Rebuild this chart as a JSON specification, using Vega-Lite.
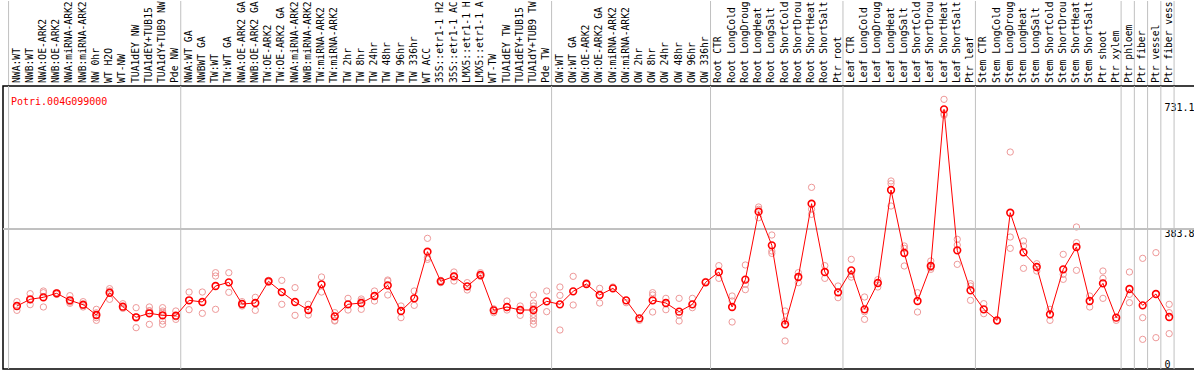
{
  "$schema": "https://vega.github.io/schema/vega-lite/v6.json",
  "autosize": {"type": "pad"},
  "padding": {"left": 1, "top": 0, "right": 1, "bottom": 2},
  "bounds": "flush",
  "spacing": 0,
  "background": "white",
  "config": {"font": "DejaVu Sans Mono", "view": {"stroke": null}},
  "resolve": {"scale": {"x": "shared", "y": "independent"}},
  "datasets": {
    "means": [
      {"id":"01","s":"NWA:WT","v":172.7,"g":1},
      {"id":"02","s":"NWB:WT","v":191,"g":0},
      {"id":"03","s":"NWA:OE-ARK2","v":196.5,"g":0},
      {"id":"04","s":"NWB:OE-ARK2","v":207.5,"g":0},
      {"id":"05","s":"NWA:miRNA-ARK2","v":188.3,"g":0},
      {"id":"06","s":"NWB:miRNA-ARK2","v":176.3,"g":0},
      {"id":"07","s":"NW 0hr","v":148,"g":0},
      {"id":"08","s":"WT H2O","v":209,"g":0},
      {"id":"09","s":"WT-NW","v":170.8,"g":0},
      {"id":"10","s":"TUA1dEY NW","v":141.7,"g":0},
      {"id":"11","s":"TUA1dEY+TUB15","v":152.7,"g":0},
      {"id":"12","s":"TUA1dY+TUB9 NW","v":147.2,"g":0},
      {"id":"13","s":"Pde NW","v":146.1,"g":0},
      {"id":"14","s":"NWA:WT GA","v":188.3,"g":1},
      {"id":"15","s":"NWBWT GA","v":183.7,"g":0},
      {"id":"16","s":"TW:WT","v":227.5,"g":0},
      {"id":"17","s":"TW:WT GA","v":237.6,"g":0},
      {"id":"18","s":"NWA:OE-ARK2 GA","v":178.2,"g":0},
      {"id":"19","s":"NWB:OE-ARK2 GA","v":180.9,"g":0},
      {"id":"20","s":"TW:OE-ARK2","v":240.4,"g":0},
      {"id":"21","s":"TW:OE-ARK2 GA","v":211,"g":0},
      {"id":"22","s":"NWA:miRNA-ARK2","v":183.7,"g":0},
      {"id":"23","s":"NWB:miRNA-ARK2","v":161.7,"g":0},
      {"id":"24","s":"TW:miRNA-ARK2","v":232,"g":0},
      {"id":"25","s":"TW:miRNA-ARK2","v":144.4,"g":0},
      {"id":"26","s":"TW 2hr","v":177.3,"g":0},
      {"id":"27","s":"TW 8hr","v":180.9,"g":0},
      {"id":"28","s":"TW 24hr","v":200.1,"g":0},
      {"id":"29","s":"TW 48hr","v":229.3,"g":0},
      {"id":"30","s":"TW 96hr","v":159,"g":0},
      {"id":"31","s":"TW 336hr","v":193.7,"g":0},
      {"id":"32","s":"WT ACC","v":321.6,"g":0},
      {"id":"33","s":"35S::etr1-1 H2","v":240.3,"g":0},
      {"id":"34","s":"35S::etr1-1 AC","v":254,"g":0},
      {"id":"35","s":"LMX5::etr1-1 H","v":226.6,"g":0},
      {"id":"36","s":"LMX5::etr1-1 A","v":257.7,"g":0},
      {"id":"37","s":"WT-TW","v":160.8,"g":0},
      {"id":"38","s":"TUA1dEY TW","v":170,"g":0},
      {"id":"39","s":"TUA1dEY+TUB15","v":161.7,"g":0},
      {"id":"40","s":"TUA1dY+TUB9 TW","v":161.7,"g":0},
      {"id":"41","s":"Pde TW","v":185.5,"g":0},
      {"id":"42","s":"OW:WT","v":177.3,"g":1},
      {"id":"43","s":"OW:WT GA","v":212.9,"g":0},
      {"id":"44","s":"OW:OE-ARK2","v":233,"g":0},
      {"id":"45","s":"OW:OE-ARK2 GA","v":202.9,"g":0},
      {"id":"46","s":"OW:miRNA-ARK2","v":221.1,"g":0},
      {"id":"47","s":"OW:miRNA-ARK2","v":188.2,"g":0},
      {"id":"48","s":"OW 2hr","v":138.9,"g":0},
      {"id":"49","s":"OW 8hr","v":188.2,"g":0},
      {"id":"50","s":"OW 24hr","v":180.9,"g":0},
      {"id":"51","s":"OW 48hr","v":157.2,"g":0},
      {"id":"52","s":"OW 96hr","v":177.3,"g":0},
      {"id":"53","s":"OW 336hr","v":237.6,"g":0},
      {"id":"54","s":"Root CTR","v":265.9,"g":1},
      {"id":"55","s":"Root LongCold","v":170,"g":0},
      {"id":"56","s":"Root LongDroug","v":244.9,"g":0},
      {"id":"57","s":"Root LongHeat","v":431.3,"g":0},
      {"id":"58","s":"Root LongSalt","v":339,"g":0},
      {"id":"59","s":"Root ShortCold","v":122.4,"g":0},
      {"id":"60","s":"Root ShortDrou","v":252.2,"g":0},
      {"id":"61","s":"Root ShortHeat","v":453.2,"g":0},
      {"id":"62","s":"Root ShortSalt","v":265.9,"g":0},
      {"id":"63","s":"Ptr root","v":210.2,"g":0},
      {"id":"64","s":"Leaf CTR","v":270.5,"g":1},
      {"id":"65","s":"Leaf LongCold","v":163.6,"g":0},
      {"id":"66","s":"Leaf LongDroug","v":235.7,"g":0},
      {"id":"67","s":"Leaf LongHeat","v":490.7,"g":0},
      {"id":"68","s":"Leaf LongSalt","v":318,"g":0},
      {"id":"69","s":"Leaf ShortCold","v":186.4,"g":0},
      {"id":"70","s":"Leaf ShortDrou","v":282.4,"g":0},
      {"id":"71","s":"Leaf ShortHeat","v":711.8,"g":0},
      {"id":"72","s":"Leaf ShortSalt","v":325.3,"g":0},
      {"id":"73","s":"Ptr leaf","v":215.6,"g":0},
      {"id":"74","s":"Stem CTR","v":163.6,"g":1},
      {"id":"75","s":"Stem LongCold","v":133.4,"g":0},
      {"id":"76","s":"Stem LongDroug","v":428.5,"g":0},
      {"id":"77","s":"Stem LongHeat","v":319.8,"g":0},
      {"id":"78","s":"Stem LongSalt","v":279.6,"g":0},
      {"id":"79","s":"Stem ShortCold","v":149.9,"g":0},
      {"id":"80","s":"Stem ShortDrou","v":273.2,"g":0},
      {"id":"81","s":"Stem ShortHeat","v":334.4,"g":0},
      {"id":"82","s":"Stem ShortSalt","v":186.4,"g":0},
      {"id":"83","s":"Ptr shoot","v":234.8,"g":0},
      {"id":"84","s":"Ptr xylem","v":140.7,"g":0},
      {"id":"85","s":"Ptr phloem","v":219.3,"g":1},
      {"id":"86","s":"Ptr fiber","v":174.5,"g":1},
      {"id":"87","s":"Ptr vessel","v":205.6,"g":1},
      {"id":"88","s":"Ptr fiber vess","v":142.5,"g":1}
    ],
    "reps": [
      {"id":"01","v":184.6},{"id":"01","v":160.8},
      {"id":"02","v":206.5},{"id":"02","v":176.4},{"id":"02","v":190},
      {"id":"03","v":213.8},{"id":"03","v":209.2},{"id":"03","v":170},
      {"id":"04","v":209.2},{"id":"04","v":204.7},
      {"id":"05","v":201},{"id":"05","v":183.7},{"id":"05","v":180},
      {"id":"06","v":184.6},{"id":"06","v":170},{"id":"06","v":175},
      {"id":"07","v":163.6},{"id":"07","v":140.7},{"id":"07","v":133.4},{"id":"07","v":154},
      {"id":"08","v":220.2},{"id":"08","v":191},{"id":"08","v":214},
      {"id":"09","v":179},{"id":"09","v":166.3},
      {"id":"10","v":168.1},{"id":"10","v":113.3},{"id":"10","v":143},
      {"id":"11","v":170},{"id":"11","v":159},{"id":"11","v":122.4},{"id":"11","v":160},
      {"id":"12","v":168.1},{"id":"12","v":159},{"id":"12","v":131.6},{"id":"12","v":122.4},{"id":"12","v":155},
      {"id":"13","v":159},{"id":"13","v":136.1},{"id":"13","v":143},
      {"id":"14","v":211},{"id":"14","v":162.6},
      {"id":"15","v":211},{"id":"15","v":152.6},
      {"id":"16","v":264},{"id":"16","v":255},{"id":"16","v":163.6},
      {"id":"17","v":264},{"id":"17","v":210.2},
      {"id":"18","v":184.6},{"id":"18","v":172.7},
      {"id":"19","v":196.5},{"id":"19","v":160.8},
      {"id":"20","v":243},{"id":"20","v":238},
      {"id":"21","v":243},{"id":"21","v":177.3},
      {"id":"22","v":223},{"id":"22","v":147.1},
      {"id":"23","v":177.3},{"id":"23","v":148},
      {"id":"24","v":252.2},{"id":"24","v":211},
      {"id":"25","v":154.4},{"id":"25","v":133.4},{"id":"25","v":131.6},
      {"id":"26","v":193.7},{"id":"26","v":161.7},
      {"id":"27","v":191.9},{"id":"27","v":163.6},{"id":"27","v":187},
      {"id":"28","v":213.8},{"id":"28","v":186.4},
      {"id":"29","v":243.9},{"id":"29","v":202.9},{"id":"29","v":241},
      {"id":"30","v":172.7},{"id":"30","v":140.7},
      {"id":"31","v":213.8},{"id":"31","v":174.5},
      {"id":"32","v":358.2},{"id":"32","v":300.6},{"id":"32","v":306},
      {"id":"33","v":243},{"id":"33","v":236.7},
      {"id":"34","v":265.9},{"id":"34","v":241.2},{"id":"34","v":255},
      {"id":"35","v":236.7},{"id":"35","v":216.6},
      {"id":"36","v":264},{"id":"36","v":254},
      {"id":"37","v":154.4},{"id":"37","v":165},
      {"id":"38","v":186.4},{"id":"38","v":161.7},
      {"id":"39","v":172.7},{"id":"39","v":147.1},
      {"id":"40","v":202.9},{"id":"40","v":180.9},{"id":"40","v":172.7},{"id":"40","v":149.9},{"id":"40","v":140.7},{"id":"40","v":131.6},{"id":"40","v":122.4},
      {"id":"41","v":213.8},{"id":"41","v":157.2},
      {"id":"42","v":224.8},{"id":"42","v":201.9},{"id":"42","v":106.9},
      {"id":"43","v":254},{"id":"43","v":175.4},
      {"id":"44","v":236.7},
      {"id":"45","v":221.1},{"id":"45","v":180.9},
      {"id":"46","v":224.8},
      {"id":"47","v":181.8},
      {"id":"48","v":133.4},
      {"id":"49","v":209.2},{"id":"49","v":202.9},{"id":"49","v":156.2},
      {"id":"50","v":193.7},{"id":"50","v":162.6},
      {"id":"51","v":193.7},{"id":"51","v":148},{"id":"51","v":131.6},
      {"id":"52","v":193.7},{"id":"52","v":168.1},
      {"id":"53","v":240},
      {"id":"54","v":283.3},{"id":"54","v":248.5},
      {"id":"55","v":200.1},{"id":"55","v":186.4},{"id":"55","v":128.8},
      {"id":"56","v":285.1},{"id":"56","v":217.5},{"id":"56","v":232},
      {"id":"57","v":444.1},{"id":"57","v":437.7},{"id":"57","v":414.8},
      {"id":"58","v":367.3},{"id":"58","v":323.5},{"id":"58","v":317},
      {"id":"59","v":159},{"id":"59","v":131.6},{"id":"59","v":76.8},
      {"id":"60","v":264},{"id":"60","v":236.7},
      {"id":"61","v":498},{"id":"61","v":424},{"id":"61","v":438},
      {"id":"62","v":283.3},{"id":"62","v":248.5},
      {"id":"63","v":227.5},{"id":"63","v":195.5},
      {"id":"64","v":300.6},{"id":"64","v":259.5},{"id":"64","v":252},
      {"id":"65","v":197.4},{"id":"65","v":136.1},{"id":"65","v":157},
      {"id":"66","v":244.9},{"id":"66","v":224.8},
      {"id":"67","v":515.4},{"id":"67","v":508},{"id":"67","v":446.8},
      {"id":"68","v":337.2},{"id":"68","v":330.8},{"id":"68","v":282.4},
      {"id":"69","v":209.2},{"id":"69","v":156.2},
      {"id":"70","v":296.1},{"id":"70","v":273.2},{"id":"70","v":278},
      {"id":"71","v":739.2},{"id":"71","v":700},{"id":"71","v":696},
      {"id":"72","v":355.5},{"id":"72","v":339.9},{"id":"72","v":286.9},
      {"id":"73","v":233.9},{"id":"73","v":227.5},{"id":"73","v":188.2},
      {"id":"74","v":179.1},{"id":"74","v":151.7},
      {"id":"75","v":131},
      {"id":"76","v":594.8},{"id":"76","v":361.8},{"id":"76","v":330.8},
      {"id":"77","v":351},{"id":"77","v":337.2},{"id":"77","v":276},
      {"id":"78","v":288.7},{"id":"78","v":268.6},
      {"id":"79","v":163.6},{"id":"79","v":133.4},
      {"id":"80","v":314.3},{"id":"80","v":259.5},{"id":"80","v":245.8},
      {"id":"81","v":389.3},{"id":"81","v":346.3},{"id":"81","v":270.5},
      {"id":"82","v":200.1},{"id":"82","v":170},
      {"id":"83","v":268.6},{"id":"83","v":248.5},{"id":"83","v":193.7},
      {"id":"84","v":133.4},
      {"id":"85","v":265.9},{"id":"85","v":204.7},{"id":"85","v":181.8},
      {"id":"86","v":303.4},{"id":"86","v":140.7},{"id":"86","v":81.3},
      {"id":"87","v":318.9},{"id":"87","v":85.9},
      {"id":"88","v":177.3},{"id":"88","v":154.4},{"id":"88","v":96.9}
    ]
  },
  "vconcat": [
    {
      "width": 1192,
      "height": 85,
      "data": {"name": "means"},
      "layer": [
        {
          "transform": [{"filter": "datum.g == 1"}],
          "mark": {"type": "rule", "color": "#c0c0c0", "strokeWidth": 1},
          "encoding": {
            "x": {"field": "id", "type": "ordinal", "bandPosition": 0, "scale": {"type": "band", "paddingInner": 0, "paddingOuter": 1.846, "align": 0.21}, "axis": null}
          }
        },
        {
          "transform": [{"filter": "datum.id == '88'"}],
          "mark": {"type": "rule", "color": "#c0c0c0", "strokeWidth": 1},
          "encoding": {
            "x": {"field": "id", "type": "ordinal", "bandPosition": 1, "scale": {"type": "band", "paddingInner": 0, "paddingOuter": 1.846, "align": 0.21}, "axis": null}
          }
        },
        {
          "mark": {"type": "text", "angle": 270, "align": "left", "baseline": "middle", "dx": 3, "font": "DejaVu Sans Mono", "fontSize": 9.7, "color": "#000000"},
          "encoding": {
            "x": {"field": "id", "type": "ordinal", "bandPosition": 0.6, "scale": {"type": "band", "paddingInner": 0, "paddingOuter": 1.846, "align": 0.21}, "axis": null},
            "y": {"datum": 0, "type": "quantitative", "scale": {"domain": [0, 1]}, "axis": null},
            "text": {"field": "s", "type": "nominal"}
          }
        }
      ]
    },
    {
      "width": 1192,
      "height": 283,
      "view": {"stroke": "#000000", "strokeWidth": 1.5},
      "title": {"text": "Potri.004G099000", "anchor": "start", "frame": "group", "orient": "top", "offset": -29, "baseline": "alphabetic", "dx": 8, "color": "#ff0000", "font": "DejaVu Sans Mono", "fontSize": 10, "fontWeight": "normal"},
      "layer": [
        {
          "data": {"name": "means"},
          "transform": [{"filter": "datum.g == 1"}],
          "mark": {"type": "rule", "color": "#c0c0c0", "strokeWidth": 1},
          "encoding": {
            "x": {"field": "id", "type": "ordinal", "bandPosition": 0, "scale": {"type": "band", "paddingInner": 0, "paddingOuter": 1.846, "align": 0.21}, "axis": null}
          }
        },
        {
          "data": {"name": "means"},
          "transform": [{"filter": "datum.id == '88'"}],
          "mark": {"type": "rule", "color": "#c0c0c0", "strokeWidth": 1},
          "encoding": {
            "x": {"field": "id", "type": "ordinal", "bandPosition": 1, "scale": {"type": "band", "paddingInner": 0, "paddingOuter": 1.846, "align": 0.21}, "axis": null}
          }
        },
        {
          "data": {"name": "reps"},
          "mark": {"type": "point", "shape": "circle", "filled": false, "stroke": "#ee9999", "strokeWidth": 1, "size": 40, "opacity": 1},
          "encoding": {
            "x": {"field": "id", "type": "ordinal", "bandPosition": 0.63, "scale": {"type": "band", "paddingInner": 0, "paddingOuter": 1.846, "align": 0.21}, "axis": null},
            "y": {"field": "v", "type": "quantitative", "scale": {"domain": [0, 775.8], "nice": false, "zero": true},
              "axis": {"orient": "right", "values": [0, 383.8, 731.1], "labelExpr": "'' + datum.value", "title": null, "grid": false, "domain": false, "ticks": false, "tickSize": 0, "labelPadding": -31, "labelAlign": "left", "labelBaseline": {"condition": {"test": "datum.value == 0", "value": "bottom"}, "value": "top"}, "labelFont": "DejaVu Sans Mono", "labelFontSize": 10, "labelColor": "#000000", "labelFlush": false, "labelOverlap": false, "labelBound": false}}
          }
        },
        {
          "data": {"name": "means"},
          "mark": {"type": "rule", "color": "#c0c0c0", "strokeWidth": 1},
          "encoding": {
            "y": {"datum": 383.8, "type": "quantitative"}
          }
        },
        {
          "data": {"name": "means"},
          "mark": {"type": "line", "color": "#ff0000", "strokeWidth": 1},
          "encoding": {
            "x": {"field": "id", "type": "ordinal", "bandPosition": 0.63, "scale": {"type": "band", "paddingInner": 0, "paddingOuter": 1.846, "align": 0.21}, "axis": null},
            "y": {"field": "v", "type": "quantitative", "title": null}
          }
        },
        {
          "data": {"name": "means"},
          "mark": {"type": "point", "shape": "circle", "filled": false, "stroke": "#ff0000", "strokeWidth": 1.6, "size": 45, "opacity": 1},
          "encoding": {
            "x": {"field": "id", "type": "ordinal", "bandPosition": 0.63, "scale": {"type": "band", "paddingInner": 0, "paddingOuter": 1.846, "align": 0.21}, "axis": null},
            "y": {"field": "v", "type": "quantitative", "title": null}
          }
        }
      ]
    }
  ]
}
